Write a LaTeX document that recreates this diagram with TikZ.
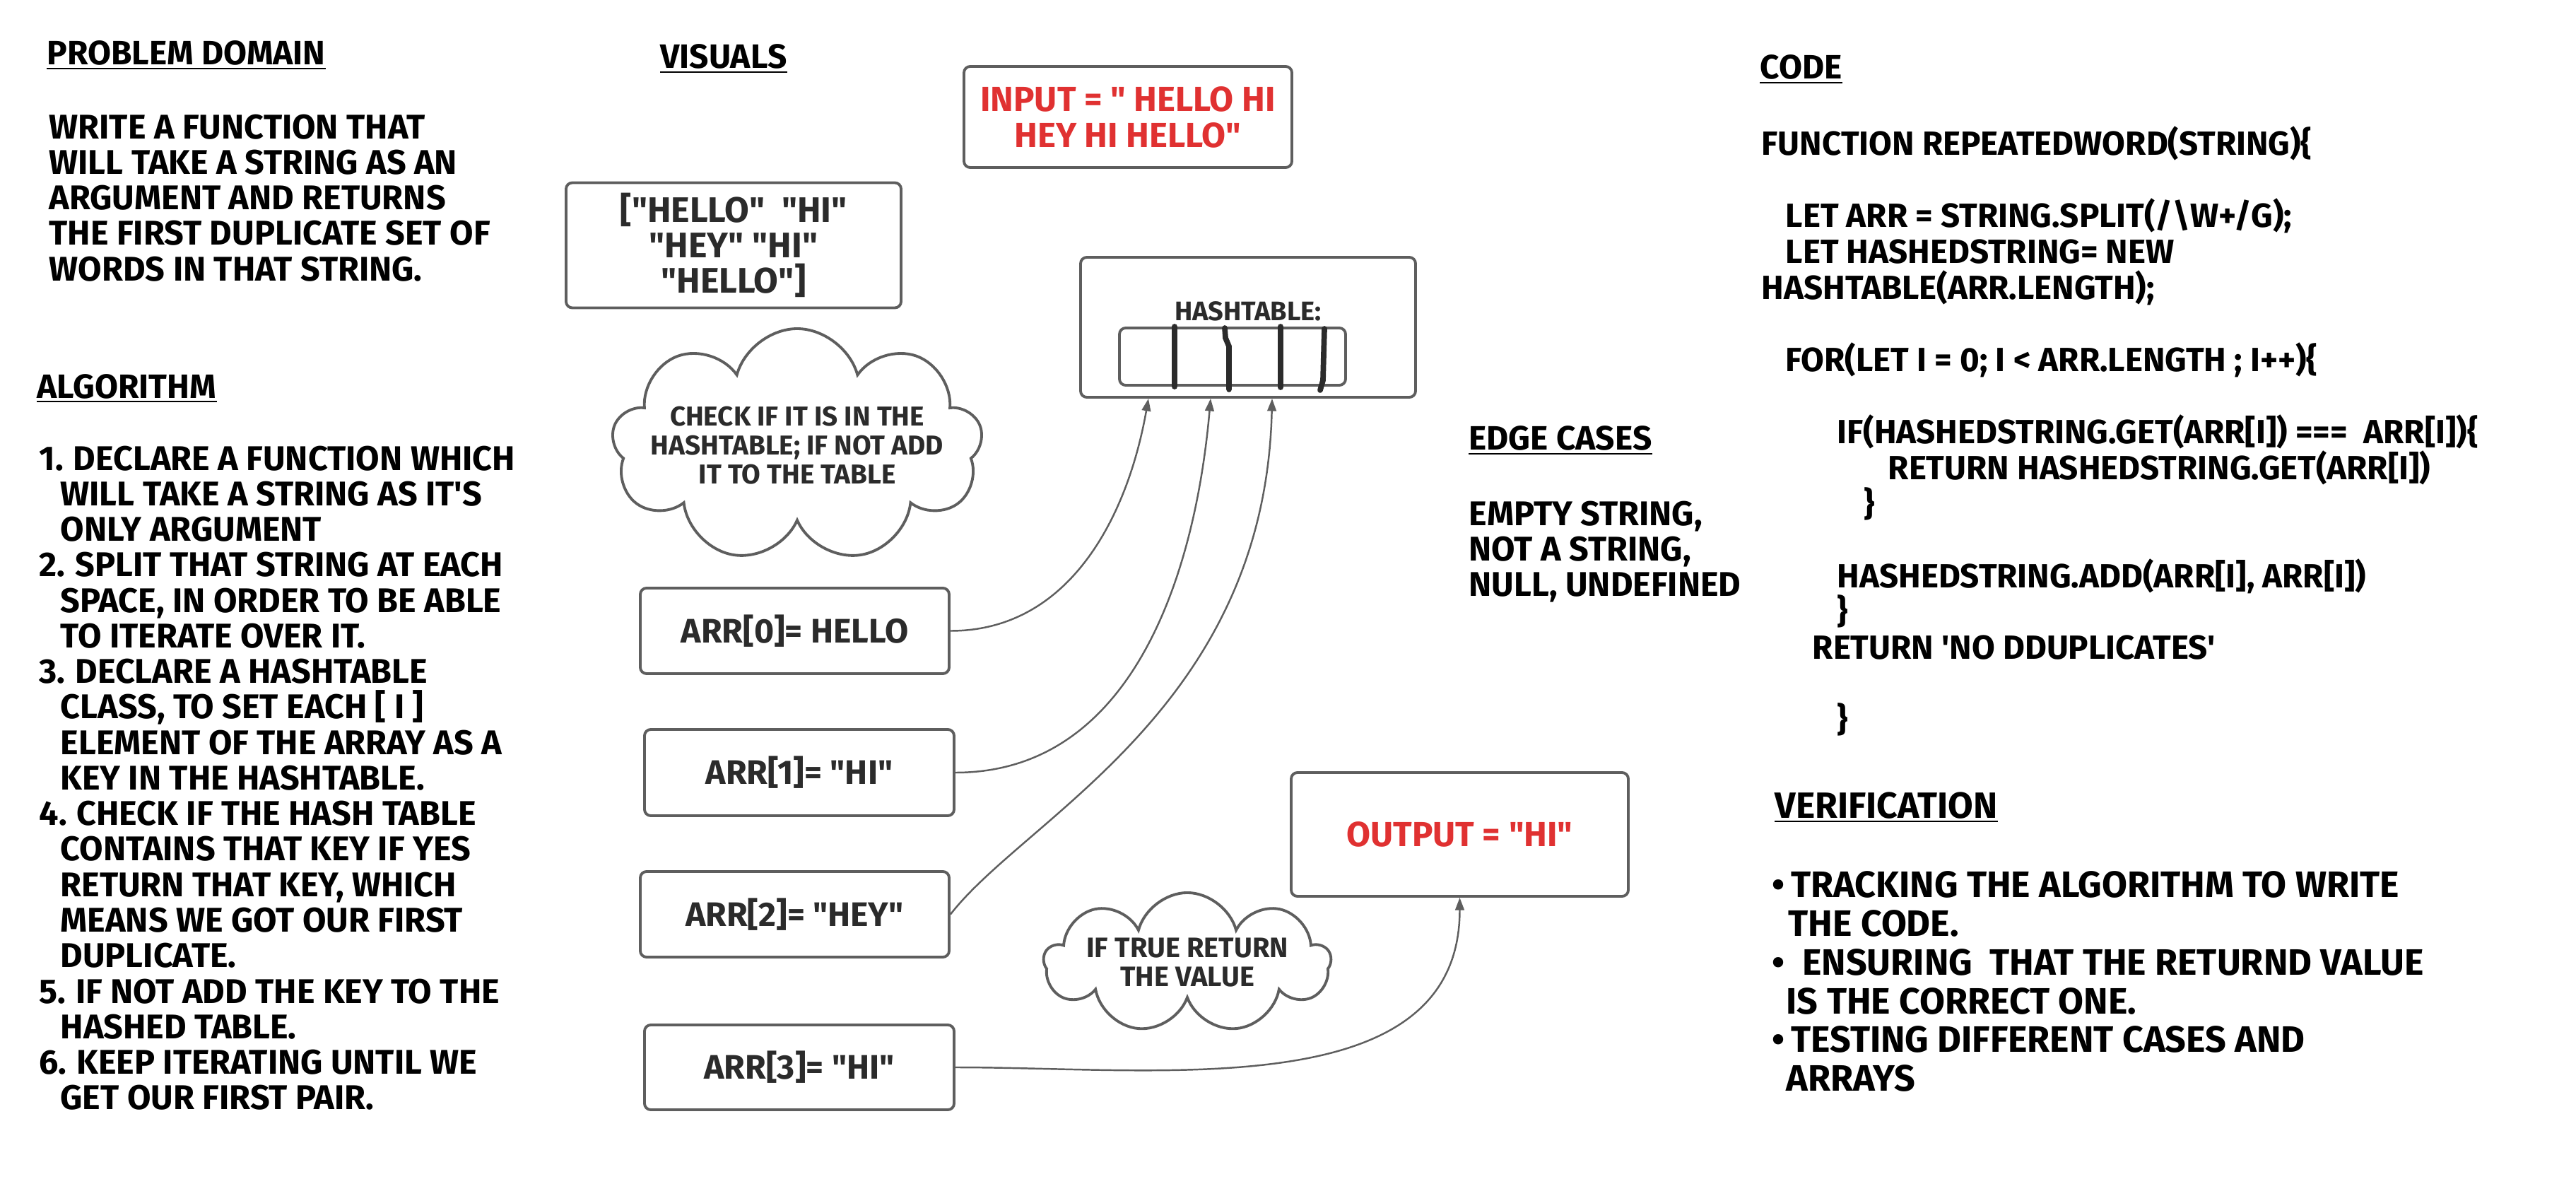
\documentclass[tikz,border=0pt]{standalone}
\usepackage{fontspec}
\newfontfamily\handfont{Fira Sans}
\usepackage{tikz}
\usetikzlibrary{shapes.symbols, arrows.meta}
\definecolor{inkred}{HTML}{E03131}
\definecolor{boxgray}{HTML}{5E5E5E}
\definecolor{inkdark}{HTML}{2B2B2B}

\begin{document}
\begin{tikzpicture}[
        txt/.style={anchor=north west, inner sep=0pt, align=left, font=\handfont\bfseries\fontsize{13.8pt}{14.3pt}\selectfont},
        heading/.style={anchor=base west, inner sep=0pt, font=\handfont\bfseries\fontsize{13.6pt}{14.3pt}\selectfont},
        box/.style={rectangle, draw=boxgray, line width=1.1pt, rounded corners=2.5pt, align=center, inner sep=0pt, text=inkdark, font=\handfont\bfseries\fontsize{13.7pt}{14.3pt}\selectfont},
        thought/.style={cloud, cloud puffs=9, cloud ignores aspect, draw=boxgray, line width=1.1pt, align=center, inner sep=0pt, text=inkdark, font=\handfont\bfseries\fontsize{11pt}{11.6pt}\selectfont},
        arrow/.style={-{Triangle[length=5pt, width=3.6pt]}, draw=boxgray, line width=0.7pt},
        rule/.style={line width=0.5pt},
        slot/.style={line width=2.2pt, draw=inkdark, line cap=round}
    ]
        \useasboundingbox (0,0) rectangle (36.45,-16.92);

        % Problem Domain
        \node[heading] (hpd) at (0.66,-0.92) {PROBLEM DOMAIN};
        \draw[rule] ([yshift=-1pt]hpd.south west) -- ([yshift=-1pt]hpd.south east);
        \node[txt] (pd) at (0.69,-1.61) {WRITE A FUNCTION THAT\\ WILL TAKE A STRING AS AN\\ ARGUMENT AND RETURNS\\ THE FIRST DUPLICATE SET OF\\ WORDS IN THAT STRING.};

        % Algorithm
        \node[heading] (halg) at (0.52,-5.63) {ALGORITHM};
        \draw[rule] ([yshift=-1pt]halg.south west) -- ([yshift=-1pt]halg.south east);
        \node[txt] (alg) at (0.55,-6.30) {1.\hspace{4pt}DECLARE A FUNCTION WHICH\\
            \hspace*{0.3cm}WILL TAKE A STRING AS IT\textquotesingle S\\
            \hspace*{0.3cm}ONLY ARGUMENT\\
            2.\hspace{4pt}SPLIT THAT STRING AT EACH\\
            \hspace*{0.3cm}SPACE, IN ORDER TO BE ABLE\\
            \hspace*{0.3cm}TO ITERATE OVER IT.\\
            3.\hspace{4pt}DECLARE A HASHTABLE\\
            \hspace*{0.3cm}CLASS, TO SET EACH [ I ]\\
            \hspace*{0.3cm}ELEMENT OF THE ARRAY AS A\\
            \hspace*{0.3cm}KEY IN THE HASHTABLE.\\
            4.\hspace{4pt}CHECK IF THE HASH TABLE\\
            \hspace*{0.3cm}CONTAINS THAT KEY IF YES\\
            \hspace*{0.3cm}RETURN THAT KEY, WHICH\\
            \hspace*{0.3cm}MEANS WE GOT OUR FIRST\\
            \hspace*{0.3cm}DUPLICATE.\\
            5.\hspace{4pt}IF NOT ADD THE KEY TO THE\\
            \hspace*{0.3cm}HASHED TABLE.\\
            6.\hspace{4pt}KEEP ITERATING UNTIL WE\\
            \hspace*{0.3cm}GET OUR FIRST PAIR.};

        % Visuals
        \node[heading] (hvis) at (9.34,-0.97) {VISUALS};
        \draw[rule] ([yshift=-1pt]hvis.south west) -- ([yshift=-1pt]hvis.south east);
        \node[box, text=inkred, minimum width=4.64cm, minimum height=1.43cm, font=\handfont\bfseries\fontsize{14pt}{14.5pt}\selectfont] (input) at (15.96,-1.655) {INPUT = " HELLO HI\\ HEY HI HELLO"};
        \node[box, minimum width=4.74cm, minimum height=1.77cm, font=\handfont\bfseries\fontsize{14.3pt}{14.2pt}\selectfont] (words) at (10.38,-3.47) {["HELLO"\ \ "HI"\\ "HEY" "HI"\\ "HELLO"]};

        % Hashtable
        \node[box, minimum width=4.74cm, minimum height=1.98cm] (hash) at (17.66,-4.63) {};
        \node[box, minimum width=3.20cm, minimum height=0.81cm] (slots) at (17.44,-5.045) {};
        \node[inner sep=0pt, text=inkdark, font=\handfont\bfseries\fontsize{10.8pt}{11pt}\selectfont] (hashlabel) at (17.66,-4.40) {HASHTABLE:};
        \draw[slot] (16.62,-4.62) -- (16.62,-5.47);
        \draw[slot] (17.33,-4.64) -- (17.34,-4.78) -- (17.39,-4.90) -- (17.39,-5.51);
        \draw[slot] (18.12,-4.62) -- (18.12,-5.48);
        \draw[slot] (18.74,-4.65) -- (18.72,-5.38) -- (18.68,-5.52);

        \node[thought, inner xsep=-0.25cm, minimum width=4.25cm, minimum height=3.3cm] (check) at (11.28,-6.30) {CHECK IF IT IS IN THE\\ HASHTABLE; IF NOT ADD\\ IT TO THE TABLE};

        % Array items
        \node[box, minimum width=4.37cm, minimum height=1.21cm] (arr0) at (11.245,-8.925) {ARR[0]= HELLO};
        \node[box, minimum width=4.38cm, minimum height=1.22cm] (arr1) at (11.31,-10.93) {ARR[1]= "HI"};
        \node[box, minimum width=4.37cm, minimum height=1.21cm] (arr2) at (11.245,-12.935) {ARR[2]= "HEY"};
        \node[box, minimum width=4.38cm, minimum height=1.20cm] (arr3) at (11.31,-15.10) {ARR[3]= "HI"};

        \node[box, text=inkred, minimum width=4.77cm, minimum height=1.75cm, font=\handfont\bfseries\fontsize{14pt}{14.5pt}\selectfont] (output) at (20.655,-11.805) {OUTPUT = "HI"};
        \node[thought, minimum width=3.1cm, minimum height=1.75cm, font=\handfont\bfseries\fontsize{11.3pt}{11.7pt}\selectfont] (ret) at (16.80,-13.62) {IF TRUE RETURN\\ THE VALUE};

        % Arrows
        \draw[arrow] (arr0.east) to[out=0, in=-100] ([xshift=-1.41cm]hash.south);
        \draw[arrow] (arr1.east) to[out=0, in=-95] ([xshift=-0.53cm]hash.south);
        \draw[arrow] (arr2.east) .. controls +(1.07,1.38) and +(-0.1,-4.38) .. ([xshift=0.34cm]hash.south);
        \draw[arrow] (arr3.east) to[out=0, in=-90] (output.south);

        % Edge cases
        \node[heading] (hedge) at (20.78,-6.37) {EDGE CASES};
        \draw[rule] ([yshift=-1pt]hedge.south west) -- ([yshift=-1pt]hedge.south east);
        \node[txt] (edge) at (20.78,-7.08) {EMPTY STRING,\\ NOT A STRING,\\ NULL, UNDEFINED};

        % Code
        \node[heading] (hcode) at (24.90,-1.12) {CODE};
        \draw[rule] ([yshift=-1pt]hcode.south west) -- ([yshift=-1pt]hcode.south east);
        \node[txt, font=\handfont\bfseries\fontsize{13.5pt}{14.5pt}\selectfont] (code) at (24.92,-1.78) {FUNCTION REPEATEDWORD(STRING)\{\\[14.5pt]
            \hspace*{0.34cm}LET ARR = STRING.SPLIT(/\textbackslash W+/G);\\
            \hspace*{0.34cm}LET HASHEDSTRING= NEW\\
            HASHTABLE(ARR.LENGTH);\\[14.5pt]
            \hspace*{0.34cm}FOR(LET I = 0; I < ARR.LENGTH ; I++)\{\\[14.5pt]
            \hspace*{1.07cm}IF(HASHEDSTRING.GET(ARR[I]) ===\ \ ARR[I])\{\\
            \hspace*{1.79cm}RETURN HASHEDSTRING.GET(ARR[I])\\
            \hspace*{1.45cm}\}\\[14.5pt]
            \hspace*{1.07cm}HASHEDSTRING.ADD(ARR[I], ARR[I])\\
            \hspace*{1.07cm}\}\\
            \hspace*{0.72cm}RETURN \textquotesingle NO DDUPLICATES\textquotesingle\\[14.5pt]
            \hspace*{1.07cm}\}};

        % Verification
        \node[heading, font=\handfont\bfseries\fontsize{14.7pt}{15.6pt}\selectfont] (hver) at (25.11,-11.57) {VERIFICATION};
        \draw[rule] ([yshift=-1pt]hver.south west) -- ([yshift=-1pt]hver.south east);
        \node[txt, font=\handfont\bfseries\fontsize{14.8pt}{15.6pt}\selectfont] (ver) at (25.07,-12.32) {\textbullet\,TRACKING THE ALGORITHM TO WRITE\\
            \hspace*{0.23cm}THE CODE.\\
            \textbullet\ \ ENSURING\ \ THAT THE RETURND VALUE\\
            \hspace*{0.2cm}IS THE CORRECT ONE.\\
            \textbullet\,TESTING DIFFERENT CASES AND\\
            \hspace*{0.2cm}ARRAYS};
    \end{tikzpicture}
\end{document}
